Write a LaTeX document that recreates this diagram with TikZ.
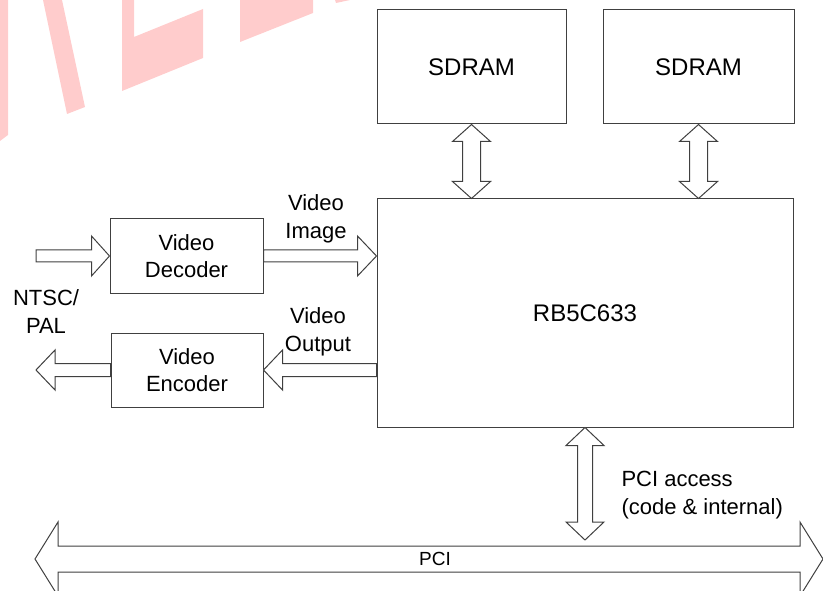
\documentclass[tikz,border=0pt]{standalone}
\usepackage{fontspec}
\setmainfont{Liberation Sans}
\definecolor{line_c}{rgb}{0.25,0.25,0.25}
\definecolor{mark_c}{rgb}{1,0.8,0.8}
\usetikzlibrary{calc,
                positioning}
\tikzset{
	fatone/.style args = {#1/#2/#3}{to path={
		($(\tikztotarget)!#3!(\tikztostart)$) coordinate (fat-b)
		($(\tikztostart)!#1!90:(\tikztotarget)$)
		-- ($(fat-b)!#1!90:(\tikztotarget)$) -- ($(fat-b)!#2!90:(\tikztotarget)$)
		-- (\tikztotarget)
		-- ($(fat-b)!#2!-90:(\tikztotarget)$) -- ($(fat-b)!#1!-90:(\tikztotarget)$)
		-- ($(\tikztostart)!#1!-90:(\tikztotarget)$) -- cycle}},
	fatboth/.style args = {#1/#2/#3}{to path={
		($(\tikztostart)!#3!(\tikztotarget)$) coordinate (fat-a)
		($(\tikztotarget)!#3!(\tikztostart)$) coordinate (fat-b)
		(\tikztostart)
		-- ($(fat-a)!#2!90:(\tikztotarget)$) -- ($(fat-a)!#1!90:(\tikztotarget)$)
		-- ($(fat-b)!#1!90:(\tikztotarget)$) -- ($(fat-b)!#2!90:(\tikztotarget)$)
		-- (\tikztotarget)
		-- ($(fat-b)!#2!-90:(\tikztotarget)$) -- ($(fat-b)!#1!-90:(\tikztotarget)$)
		-- ($(fat-a)!#1!-90:(\tikztotarget)$) -- ($(fat-a)!#2!-90:(\tikztotarget)$)
		-- cycle}},
}

\begin{document}
\begin{tikzpicture}[
			x=1pt, y=-1pt,
			line width=1pt,
			box/.style = {draw=line_c, rectangle, inner sep=0pt, font=\fontsize{24}{28}\selectfont},
			sbox/.style = {box, align=center, font=\fontsize{22}{27}\selectfont},
			lbl/.style = {align=center, inner sep=0pt, font=\fontsize{22}{28}\selectfont},
			pipe/.style = {draw=line_c, fill=white},
			]
			\useasboundingbox (0,0) rectangle (823,591);
			% watermark
			\fill[mark_c] (0,0) -- (8,0) -- (8,135) -- (0,141) -- cycle;
			\fill[mark_c] (43,0) -- (62,0) -- (85,107) -- (67,114) -- cycle;
			\fill[mark_c] (122,0) -- (134,0) -- (134,37) -- (203,9) -- (203,58) -- (122,91) -- cycle;
			\fill[mark_c] (240,0) -- (313,0) -- (313,13) -- (240,42) -- cycle;
			\fill[mark_c] (335,0) -- (350,0) -- (336,3) -- cycle;
			% blocks
			\node[box, minimum width=189, minimum height=114] (sdA) at (471.5,67) {SDRAM};
			\node[box, minimum width=191, minimum height=114] (sdB) at (698.5,67) {SDRAM};
			\node[box, minimum width=416, minimum height=228] (chip) at (585,313) {RB5C633};
			\node[sbox, minimum width=153, minimum height=74] (dec) at (186.5,256) {Video\\Decoder};
			\node[sbox, minimum width=152, minimum height=74] (enc) at (187,370) {Video\\Encoder};
			% labels
			\node[lbl] (vimg) at (316,219) {Video\\Image};
			\node[lbl] (vout) at (318,332) {Video\\Output};
			\node[lbl] (ntsc) at (46,312) {NTSC/\\PAL};
			\node[lbl, align=left, anchor=west] (pcia) at (621,495) {PCI access\\(code \& internal)};
			% ends
			\coordinate (ntsc-in) at (36,256);
			\coordinate (ntsc-out) at (36,370);
			\coordinate (img-in) at (chip.west |- dec.east);
			\coordinate (out-src) at (chip.west |- enc.east);
			\coordinate (sdA-pin) at (chip.north -| sdA.south);
			\coordinate (sdB-pin) at (chip.north -| sdB.south);
			\coordinate (pci-tap) at (chip.south |- 0,540);
			\coordinate (bus-l) at (35,559);
			\coordinate (bus-r) at (823,559);
			% pipes
			\draw[pipe, fatone=6pt/20pt/18pt] (ntsc-in) to (dec.west);
			\draw[pipe, fatone=6pt/20pt/19pt] (dec.east) to (img-in);
			\draw[pipe, fatone=6.5pt/20pt/19pt] (out-src) to (enc.east);
			\draw[pipe, fatone=6.5pt/20pt/19pt] (enc.west) to (ntsc-out);
			\draw[pipe, fatboth=9pt/19pt/17pt] (sdA.south) to (sdA-pin);
			\draw[pipe, fatboth=9pt/19pt/17pt] (sdB.south) to (sdB-pin);
			\draw[pipe, fatboth=7.5pt/19pt/18pt] (chip.south) to (pci-tap);
			\draw[pipe, fatboth=13pt/37pt/23pt] (bus-l) to (bus-r);
			\node[lbl, font=\fontsize{19}{22}\selectfont] (pci) at (435,559) {PCI};
		\end{tikzpicture}
\end{document}
